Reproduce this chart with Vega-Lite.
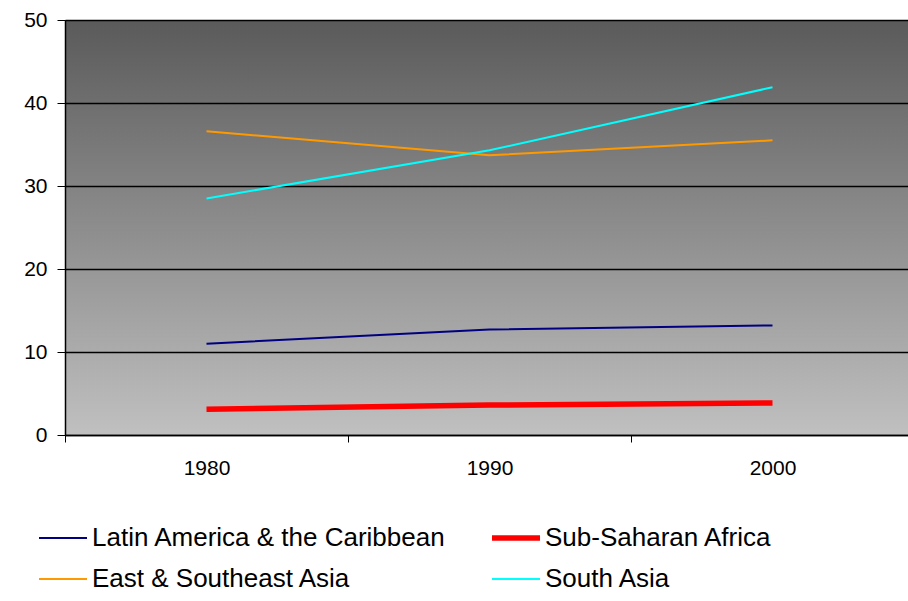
{
  "$schema": "https://vega.github.io/schema/vega-lite/v6.json",
  "autosize": {"type": "none"},
  "width": 843,
  "height": 415,
  "padding": {"left": 65, "top": 20, "right": 0, "bottom": 166},
  "background": "white",
  "config": {
    "font": "Liberation Sans",
    "view": {
      "stroke": null,
      "fill": {
        "gradient": "linear",
        "x1": 0, "y1": 0, "x2": 0, "y2": 1,
        "stops": [
          {"offset": 0, "color": "#5a5a5a"},
          {"offset": 1, "color": "#c0c0c0"}
        ]
      }
    }
  },
  "data": {
    "values": [
      {"year": "1980", "region": "Latin America & the Caribbean", "value": 11.0},
      {"year": "1990", "region": "Latin America & the Caribbean", "value": 12.7},
      {"year": "2000", "region": "Latin America & the Caribbean", "value": 13.2},
      {"year": "1980", "region": "Sub-Saharan Africa", "value": 3.1},
      {"year": "1990", "region": "Sub-Saharan Africa", "value": 3.6},
      {"year": "2000", "region": "Sub-Saharan Africa", "value": 3.85},
      {"year": "1980", "region": "East & Southeast Asia", "value": 36.6},
      {"year": "1990", "region": "East & Southeast Asia", "value": 33.7},
      {"year": "2000", "region": "East & Southeast Asia", "value": 35.5},
      {"year": "1980", "region": "South Asia", "value": 28.5},
      {"year": "1990", "region": "South Asia", "value": 34.3},
      {"year": "2000", "region": "South Asia", "value": 41.9}
    ]
  },
  "mark": {"type": "line", "strokeCap": "butt"},
  "encoding": {
    "x": {
      "field": "year",
      "type": "ordinal",
      "scale": {"type": "band", "paddingInner": 0, "paddingOuter": 0, "range": [0, 849]},
      "axis": {
        "title": null,
        "labelAngle": 0,
        "tickBand": "extent",
        "tickSize": 7,
        "tickColor": "black",
        "domainColor": "black",
        "domainWidth": 1.5,
        "labelPadding": 15,
        "labelFontSize": 21,
        "labelColor": "black",
        "labelFont": "Liberation Sans",
        "grid": false
      }
    },
    "y": {
      "field": "value",
      "type": "quantitative",
      "scale": {"domain": [0, 50], "nice": false},
      "axis": {
        "title": null,
        "values": [0, 10, 20, 30, 40, 50],
        "grid": true,
        "gridColor": "black",
        "gridWidth": 1.5,
        "gridOpacity": 1,
        "tickSize": 8,
        "tickColor": "black",
        "domainColor": "black",
        "domainWidth": 1.5,
        "labelPadding": 10,
        "labelFontSize": 21,
        "labelColor": "black",
        "labelFont": "Liberation Sans"
      }
    },
    "color": {
      "field": "region",
      "type": "nominal",
      "scale": {
        "domain": ["Latin America & the Caribbean", "Sub-Saharan Africa", "East & Southeast Asia", "South Asia"],
        "range": ["#000080", "#ff0000", "#ff9900", "#00ffff"]
      },
      "legend": {
        "title": null,
        "orient": "none",
        "legendX": -15,
        "legendY": 505,
        "direction": "horizontal",
        "columns": 2,
        "symbolType": "stroke",
        "symbolSize": 2304,
        "labelFontSize": 26,
        "labelFont": "Liberation Sans",
        "labelColor": "black",
        "labelOffset": 16,
        "labelLimit": 500,
        "columnPadding": 34,
        "rowPadding": 15,
        "padding": 0,
        "encode": {
          "symbols": {
            "update": {
              "strokeWidth": {"signal": "datum.value === 'Sub-Saharan Africa' ? 5.5 : 2"}
            }
          }
        }
      }
    },
    "strokeWidth": {
      "condition": {"test": "datum.region === 'Sub-Saharan Africa'", "value": 5.5},
      "value": 2
    }
  }
}
